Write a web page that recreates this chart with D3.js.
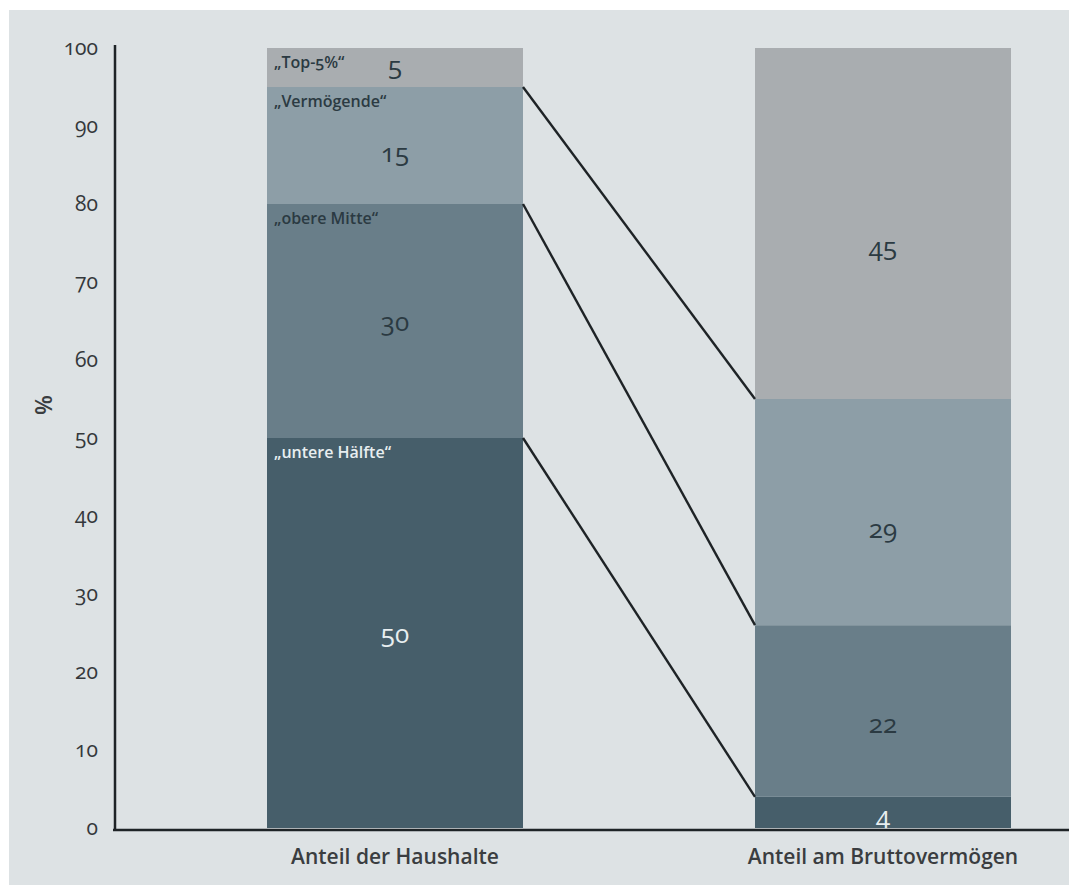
<!DOCTYPE html>
<html>
<head>
<meta charset="utf-8">
<script src="https://cdn.jsdelivr.net/npm/d3@7"></script>
<style>
  body { margin: 0; background: #fff; }
  svg text { font-family: "Open Sans", "Noto Sans", sans-serif; font-variant-numeric: oldstyle-nums; font-feature-settings: "onum"; }
</style>
</head>
<body>
<div id="chart"></div>
<script>
// categories and values
var categories = ["Anteil der Haushalte", "Anteil am Bruttovermögen"];
var groups = ["„untere Hälfte“", "„obere Mitte“", "„Vermögende“", "„Top-5%“"];
var haushalte = [50, 30, 15, 5];
var vermoegen = [4, 22, 29, 45];
var yTicks = [0, 10, 20, 30, 40, 50, 60, 70, 80, 90, 100];

var colors = ["#465e6a", "#697e89", "#8d9ea7", "#a9adb0"];
var labelColors = ["#e8eef0", "#2b3a42", "#2b3a42", "#2b3a42"];

var W = 1069, H = 886;

var svg = d3.select("#chart").append("svg")
    .attr("width", W)
    .attr("height", H);

// panel background
svg.append("rect")
    .attr("x", 9).attr("y", 10)
    .attr("width", W - 9).attr("height", H - 11)
    .attr("fill", "#dde2e4");

var y = d3.scaleLinear().domain([0, 100]).range([828, 48]);
var x = d3.scaleBand().domain(categories).range([267, 1011])
    .paddingInner(0.4754).paddingOuter(0);

// stack the two series
function stackIt(vals) {
  var acc = 0;
  return vals.map(function(v, i) {
    var d = {i: i, v: v, y0: acc, y1: acc + v};
    acc += v;
    return d;
  });
}
var series = [stackIt(haushalte), stackIt(vermoegen)];

series.forEach(function(s, k) {
  var g = svg.append("g");
  g.selectAll("rect")
      .data(s)
    .enter().append("rect")
      .attr("x", x(categories[k]))
      .attr("width", x.bandwidth())
      .attr("y", function(d) { return y(d.y1); })
      .attr("height", function(d) { return y(d.y0) - y(d.y1); })
      .attr("fill", function(d) { return colors[d.i]; });

  // values
  g.selectAll("text.val")
      .data(s)
    .enter().append("text")
      .attr("class", "val")
      .attr("x", x(categories[k]) + x.bandwidth() / 2)
      .attr("y", function(d) {
        var h = y(d.y0) - y(d.y1);
        if (k == 0 && d.i == 3) return y(d.y1) + 27;
        if (k == 1 && d.i == 0) return y(d.y0) - 3;
        if (k == 0) return (y(d.y0) + y(d.y1)) / 2 + 10 + (d.i == 2 ? 6 : 0);
        return (y(d.y0) + y(d.y1)) / 2 + 10 + Math.min(22, h * 0.07);
      })
      .attr("text-anchor", "middle")
      .attr("font-size", 26)
      .attr("font-weight", 500)
      .attr("fill", function(d) { return d.i == 0 ? "#e8eef0" : "#2b3a42"; })
      .text(function(d) { return d.v; });
});

// group names in left bar
svg.selectAll("text.grp")
    .data(series[0])
  .enter().append("text")
    .attr("class", "grp")
    .attr("x", x(categories[0]) + 7)
    .attr("y", function(d) { return y(d.y1) + 20; })
    .attr("font-size", 16)
    .attr("font-weight", 600)
    .attr("fill", function(d) { return labelColors[d.i]; })
    .text(function(d) { return groups[d.i]; });

// connecting lines
var links = [1, 2, 3].map(function(i) {
  return [series[0][i].y0, series[1][i].y0];
});
svg.selectAll("line.link")
    .data(links)
  .enter().append("line")
    .attr("x1", x(categories[0]) + x.bandwidth())
    .attr("x2", x(categories[1]))
    .attr("y1", function(d) { return y(d[0]); })
    .attr("y2", function(d) { return y(d[1]); })
    .attr("stroke", "#1e2326")
    .attr("stroke-width", 2.4);

// axes
var yAxis = d3.axisLeft(y).tickValues(yTicks).tickSize(0).tickPadding(17);
var ya = svg.append("g")
    .attr("transform", "translate(115,0)")
    .call(yAxis);
ya.select(".domain").remove();
ya.selectAll("text")
    .attr("font-size", 21)
    .attr("font-weight", 500)
    .attr("fill", "#34383b");

svg.append("line")
    .attr("x1", 115).attr("x2", 115)
    .attr("y1", 45).attr("y2", 830)
    .attr("stroke", "#1e2326").attr("stroke-width", 2.5);
svg.append("line")
    .attr("x1", 113).attr("x2", W)
    .attr("y1", 830).attr("y2", 830)
    .attr("stroke", "#1e2326").attr("stroke-width", 2.5);

// category labels
svg.selectAll("text.cat")
    .data(categories)
  .enter().append("text")
    .attr("class", "cat")
    .attr("x", function(d) { return x(d) + x.bandwidth() / 2; })
    .attr("y", 864)
    .attr("text-anchor", "middle")
    .attr("font-size", 21)
    .attr("font-weight", 600)
    .attr("fill", "#3a3d40")
    .text(function(d) { return d; });

svg.append("text")
    .attr("transform", "translate(52,405) rotate(-90)")
    .attr("text-anchor", "middle")
    .attr("font-size", 23)
    .attr("font-weight", 600)
    .attr("fill", "#3a3d40")
    .text("%");
</script>
</body>
</html>
